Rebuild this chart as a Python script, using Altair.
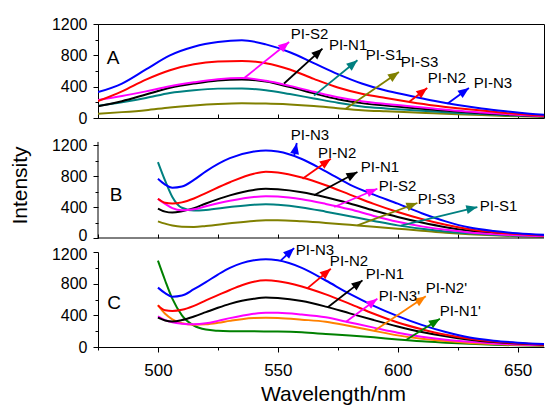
import math
import altair as alt
import pandas as pd

FONT = "Liberation Sans"

# ---------------- Panel A ----------------
wl_a = [475, 485, 495, 505, 515, 525, 535, 545, 555, 565, 575, 585, 595, 605, 615, 625, 635, 645, 655, 665]
a_n3 = [330, 440, 620, 800, 910, 970, 993, 940, 840, 700, 560, 440, 350, 285, 220, 165, 120, 85, 55, 32]
a_n2 = [215, 340, 490, 610, 685, 720, 728, 700, 620, 500, 390, 310, 255, 205, 160, 125, 95, 65, 40, 22]
a_s2 = [230, 280, 340, 405, 455, 495, 510, 475, 410, 335, 265, 215, 180, 150, 120, 92, 70, 50, 32, 18]
a_n1 = [150, 215, 300, 385, 440, 480, 492, 465, 395, 315, 240, 190, 158, 130, 105, 82, 62, 45, 30, 17]
a_s1 = [155, 200, 255, 320, 355, 375, 378, 355, 305, 250, 195, 148, 122, 102, 82, 65, 50, 36, 24, 14]
a_s3 = [55, 75, 100, 135, 160, 178, 187, 184, 172, 152, 125, 100, 85, 72, 60, 48, 37, 27, 18, 10]
a_names = ["PI-S3", "PI-S1", "PI-N1", "PI-S2", "PI-N2", "PI-N3"]
a_values = [a_s3, a_s1, a_n1, a_s2, a_n2, a_n3]

ann_a_series = ["PI-S2", "PI-N1", "PI-S1", "PI-S3", "PI-N2", "PI-N3"]
ann_a_x0 = [536.0, 552.6, 565.1, 578.3, 604.7, 620.7]
ann_a_y0 = [510, 440, 285, 118, 204, 183]
ann_a_x1 = [554.7, 568.6, 583.2, 600.5, 612.3, 629.7]
ann_a_y1 = [971, 885, 737, 587, 383, 383]
ann_a_lx = [555.4, 571.3, 586.7, 601.3, 612.5, 631.7]
ann_a_ly = [1073, 932, 808, 715, 511, 441]

# ---------------- Panel B ----------------
wl_b = [500, 503, 506, 510, 515, 520, 530, 540, 545, 550, 560, 570, 580, 590, 600, 610, 620, 630, 640, 650, 665]
b_n3 = [765, 690, 650, 665, 750, 860, 1030, 1115, 1130, 1115, 1020, 860, 690, 560, 443, 320, 215, 135, 90, 60, 35]
b_n2 = [507, 455, 445, 460, 510, 580, 720, 830, 855, 845, 780, 680, 560, 440, 335, 245, 170, 112, 75, 50, 28]
b_n1 = [380, 340, 328, 345, 385, 445, 550, 620, 635, 628, 590, 525, 445, 355, 271, 200, 140, 95, 65, 45, 25]
b_s2 = [505, 440, 385, 358, 370, 410, 480, 530, 540, 535, 500, 440, 370, 285, 210, 150, 105, 72, 50, 35, 20]
b_s1 = [980, 740, 530, 390, 355, 362, 400, 430, 435, 428, 395, 340, 280, 220, 163, 120, 85, 60, 42, 30, 18]
b_s3 = [215, 185, 160, 145, 143, 155, 190, 220, 228, 228, 215, 195, 170, 145, 120, 95, 68, 48, 34, 24, 14]
b_names = ["PI-S3", "PI-S1", "PI-N1", "PI-S2", "PI-N2", "PI-N3"]
b_values = [b_s3, b_s1, b_n1, b_s2, b_n2, b_n3]

ann_b_series = ["PI-N3", "PI-N2", "PI-N1", "PI-S2", "PI-S3", "PI-S1"]
ann_b_x0 = [556.8, 560.3, 565.1, 573.5, 583.2, 601.3]
ann_b_y0 = [1060, 765, 551, 400, 164, 160]
ann_b_x1 = [557.9, 572.1, 583.2, 591.5, 608.2, 633.2]
ann_b_y1 = [1226, 1023, 851, 636, 452, 400]
ann_b_lx = [555.4, 566.7, 584.6, 592.1, 608.3, 634.2]
ann_b_ly = [1335, 1097, 916, 671, 503, 413]

# ---------------- Panel C ----------------
wl_c = [500, 503, 506, 510, 515, 520, 525, 530, 535, 540, 545, 550, 560, 570, 580, 590, 600, 610, 620, 630, 640, 650, 665]
c_n3 = [750, 680, 635, 650, 730, 820, 915, 1000, 1060, 1095, 1110, 1095, 1000, 840, 670, 520, 390, 280, 190, 120, 80, 55, 32]
c_n2 = [526, 463, 455, 470, 520, 590, 655, 720, 780, 825, 842, 832, 765, 665, 545, 420, 310, 225, 155, 105, 70, 48, 27]
c_n1 = [370, 335, 322, 340, 385, 440, 495, 545, 585, 610, 625, 618, 580, 510, 425, 340, 260, 190, 135, 92, 63, 43, 24]
c_n3p = [388, 340, 312, 295, 288, 300, 330, 365, 395, 420, 433, 432, 410, 375, 310, 245, 181, 130, 92, 65, 45, 32, 18]
c_n2p = [530, 420, 350, 300, 282, 287, 305, 330, 352, 365, 368, 365, 345, 320, 265, 205, 147, 105, 75, 52, 37, 26, 15]
c_n1p = [1090, 840, 610, 400, 270, 220, 205, 200, 199, 198, 197, 195, 185, 165, 145, 122, 95, 72, 55, 40, 29, 21, 12]
c_names = ["PI-N1'", "PI-N2'", "PI-N3'", "PI-N1", "PI-N2", "PI-N3"]
c_values = [c_n1p, c_n2p, c_n3p, c_n1, c_n2, c_n3]

ann_c_series = ["PI-N3", "PI-N2", "PI-N1", "PI-N3'", "PI-N2'", "PI-N1'"]
ann_c_x0 = [551.3, 562.3, 570.7, 578.3, 590.1, 603.3]
ann_c_y0 = [1095, 740, 500, 316, 202, 85]
ann_c_x1 = [556.8, 572.1, 585.3, 591.5, 611.7, 617.6]
ann_c_y1 = [1250, 989, 842, 610, 640, 357]
ann_c_lx = [557.5, 571.7, 586.7, 592.1, 611.7, 617.5]
ann_c_ly = [1231, 1086, 916, 644, 745, 455]

panel_letters = ["A", "B", "C"]
letter_x = [481.3, 482.5, 481.7]
letter_y = [766, 555, 556]

series_names = ["PI-N3", "PI-N2", "PI-N1", "PI-S1", "PI-S2", "PI-S3", "PI-N3'", "PI-N2'", "PI-N1'"]
series_colors = ["#0000FF", "#FF0000", "#000000", "#008080", "#FF00FF", "#808000", "#FF00FF", "#FF8000", "#008000"]

x_ticks = [475, 500, 525, 550, 575, 600, 625, 650]
y_ticks = [0, 200, 400, 600, 800, 1000, 1200]

X_DOMAIN = [475, 661]
PLOT_W = 446
H_A, YMAX_A = 94, 1200
H_B, YMAX_B = 106, 1368
H_C, YMAX_C = 95, 1200

ARROW = "M0,0L-0.85,2.1L0.85,2.1Z"


def long_df(wl, names, arrays):
    rows = []
    for n, arr in zip(names, arrays):
        for w, v in zip(wl, arr):
            rows.append({"wl": w, "val": v, "series": n})
    return pd.DataFrame(rows)


def ann_df(names, x0, y0, x1, y1, lx, ly, H, ymax):
    ppn = PLOT_W / (X_DOMAIN[1] - X_DOMAIN[0])
    ppv = H / ymax
    rows = []
    for i, n in enumerate(names):
        dx = (x1[i] - x0[i]) * ppn
        dy = (y1[i] - y0[i]) * ppv
        ang = math.degrees(math.atan2(dx, dy)) % 360
        rows.append({"series": n, "label": n, "x0": x0[i], "y0": y0[i], "x1": x1[i], "y1": y1[i],
                     "lx": lx[i], "ly": ly[i], "ang": ang})
    return pd.DataFrame(rows)


color = alt.Color("series:N", scale=alt.Scale(domain=series_names, range=series_colors), legend=None)

ytick_size = {"condition": {"test": "datum.value % 400 === 0", "value": 5}, "value": 3}
xtick_size = {"condition": {"test": "datum.value % 50 === 0", "value": 5}, "value": 3}


def y_axis(title=None, domain=True, nudge_value=None, nudge=0):
    kw = dict(values=y_ticks, format="d", labelExpr="datum.value % 400 === 0 ? datum.label : ''",
              tickSize=ytick_size, labelFontSize=16, labelPadding=6, grid=False, domain=domain)
    if nudge_value is not None:
        kw["labelOffset"] = {"condition": {"test": "datum.value === %d" % nudge_value, "value": nudge}, "value": 0}
    if title:
        kw.update(title=title, titleFontSize=21, titlePadding=21)
    else:
        kw.update(title=None)
    return alt.Axis(**kw)


x_axis_inner = alt.Axis(values=x_ticks, labels=False, domain=False, tickSize=4, offset=-4, title=None, grid=False)
x_axis_bottom = alt.Axis(values=x_ticks, format="d", labelExpr="datum.value % 50 === 0 ? datum.label : ''",
                         tickSize=xtick_size, labelFontSize=17, labelPadding=10, grid=False,
                         title="Wavelength/nm", titleFontSize=21, titlePadding=5, titleX=PLOT_W / 2 + 12)


def make_panel(lines_df, adf, idx, H, ymax, xaxis, yaxis, b_lines=False):
    xs = alt.Scale(domain=X_DOMAIN, nice=False, zero=False)
    ys = alt.Scale(domain=[0, ymax], nice=False, zero=False)
    lines = alt.Chart(lines_df).mark_line(strokeWidth=2, clip=True, interpolate="monotone").encode(
        x=alt.X("wl:Q", scale=xs, axis=xaxis),
        y=alt.Y("val:Q", scale=ys, axis=yaxis),
        color=color,
    )
    shafts = alt.Chart(adf).mark_rule(strokeWidth=1.8).encode(
        x=alt.X("x0:Q", scale=xs, axis=xaxis), y=alt.Y("y0:Q", scale=ys, axis=yaxis),
        x2="x1:Q", y2="y1:Q", color=color,
    )
    heads = alt.Chart(adf).mark_point(shape=ARROW, filled=True, size=110, opacity=1, strokeWidth=0).encode(
        x=alt.X("x1:Q", scale=xs, axis=xaxis), y=alt.Y("y1:Q", scale=ys, axis=yaxis),
        angle=alt.Angle("ang:Q", scale=None), color=color,
    )
    labels = alt.Chart(adf).mark_text(align="left", baseline="middle", font=FONT, fontSize=15, color="black").encode(
        x=alt.X("lx:Q", scale=xs, axis=xaxis), y=alt.Y("ly:Q", scale=ys, axis=yaxis), text="label:N",
    )
    letter_df = pd.DataFrame({"t": [panel_letters[idx]], "x": [letter_x[idx]], "y": [letter_y[idx]]})
    letter = alt.Chart(letter_df).mark_text(align="center", baseline="middle", font=FONT, fontSize=19,
                                            color="black").encode(
        x=alt.X("x:Q", scale=xs, axis=xaxis), y=alt.Y("y:Q", scale=ys, axis=yaxis), text="t:N",
    )
    layers = [lines, shafts, heads, labels, letter]
    if b_lines:
        one = pd.DataFrame({"a": [0]})
        bottom = alt.Chart(one).mark_rule(color="black", strokeWidth=1).encode(
            x=alt.value(0), x2=alt.value(PLOT_W), y=alt.value(H))
        left = alt.Chart(one).mark_rule(color="black", strokeWidth=1).encode(
            x=alt.value(0), y=alt.Y(datum=0, scale=ys, axis=yaxis), y2=alt.Y2(datum=1240))
        layers += [bottom, left]
    return alt.layer(*layers).properties(width=PLOT_W, height=H)


df_a = long_df(wl_a, a_names, a_values)
df_b = long_df(wl_b, b_names, b_values)
df_c = long_df(wl_c, c_names, c_values)

ad_a = ann_df(ann_a_series, ann_a_x0, ann_a_y0, ann_a_x1, ann_a_y1, ann_a_lx, ann_a_ly, H_A, YMAX_A)
ad_b = ann_df(ann_b_series, ann_b_x0, ann_b_y0, ann_b_x1, ann_b_y1, ann_b_lx, ann_b_ly, H_B, YMAX_B)
ad_c = ann_df(ann_c_series, ann_c_x0, ann_c_y0, ann_c_x1, ann_c_y1, ann_c_lx, ann_c_ly, H_C, YMAX_C)

pA = make_panel(df_a, ad_a, 0, H_A, YMAX_A, x_axis_inner, y_axis()).properties(
    view=alt.ViewBackground(stroke="black", strokeWidth=1))
pB = make_panel(df_b, ad_b, 1, H_B, YMAX_B, x_axis_inner,
                y_axis("Intensity", domain=False, nudge_value=0, nudge=-2.5), b_lines=True)
pC = make_panel(df_c, ad_c, 2, H_C, YMAX_C, x_axis_bottom, y_axis(nudge_value=1200, nudge=2.5))

chart = alt.vconcat(pA, pB, pC, spacing=14, bounds="flush").resolve_scale(y="independent").properties(
    padding={"left": 0, "top": 7, "right": 0, "bottom": 0}
).configure_view(stroke="transparent").configure_axis(
    domainColor="black", tickColor="black", labelColor="black", titleColor="black",
    domainWidth=1, tickWidth=1, labelFont=FONT, titleFont=FONT, titleFontWeight="normal",
)

chart.save("out.html", embed_options={"renderer": "svg", "actions": False})
